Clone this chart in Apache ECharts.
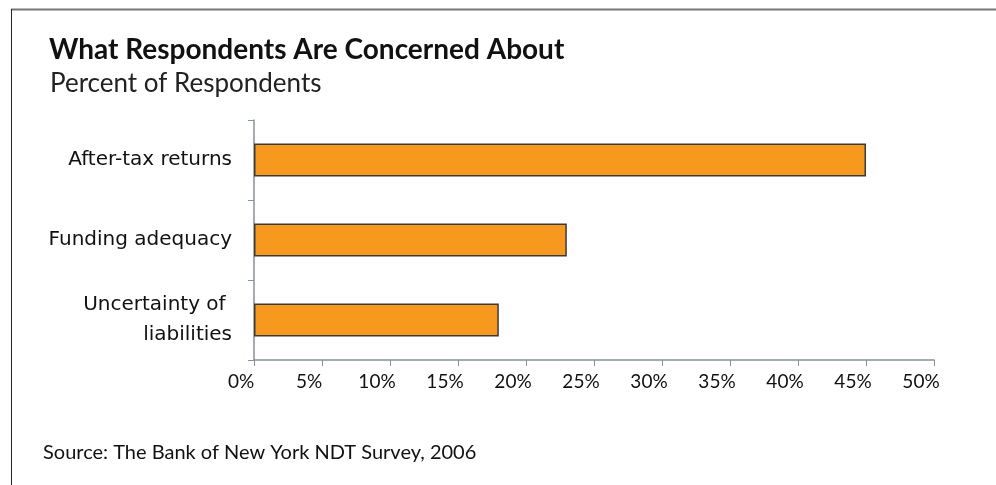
<!DOCTYPE html>
<html>
<head>
<meta charset="utf-8">
<style>
  html, body { margin: 0; padding: 0; background: #fff; }
  #chart { width: 996px; height: 485px; }
</style>
<script src="https://cdn.jsdelivr.net/npm/echarts@6/dist/echarts.min.js"></script>
</head>
<body>
<div id="chart"></div>
<script>
// categories, top to bottom
var categories = ['After-tax returns', 'Funding adequacy', 'Uncertainty of \nliabilities'];
// percent of respondents
var values = [45, 23, 18];
var xTicks = [0, 5, 10, 15, 20, 25, 30, 35, 40, 45, 50];

var chart = echarts.init(document.getElementById('chart'));

chart.setOption({
  animation: false,
  textStyle: { fontFamily: 'Lato' },
  title: [{
    text: 'What Respondents Are Concerned About',
    left: 44, top: 31,
    textStyle: { fontSize: 28, fontWeight: 'bold', color: '#111', fontFamily: 'Lato' }
  }, {
    text: 'Percent of Respondents',
    left: 45, top: 66,
    textStyle: { fontSize: 26, fontWeight: 'normal', color: '#222', fontFamily: 'Lato' }
  }, {
    text: 'Source: The Bank of New York NDT Survey, 2006',
    left: 38, top: 438,
    textStyle: { fontSize: 20, fontWeight: 'normal', color: '#111', fontFamily: 'Lato' }
  }],
  graphic: [
    // frame lines of the source figure
    { type: 'line', shape: { x1: 11, y1: 9.5, x2: 996, y2: 9.5 }, style: { stroke: '#777', lineWidth: 2 } },
    { type: 'line', shape: { x1: 11.5, y1: 9, x2: 11.5, y2: 485 }, style: { stroke: '#222', lineWidth: 1 } }
  ],
  grid: { left: 254, right: 62, top: 120, bottom: 125 },
  xAxis: {
    type: 'value',
    min: 0, max: 50, interval: 5,
    axisLine: { show: true, lineStyle: { color: '#8a9099', width: 1.5 } },
    axisTick: { show: true, length: 6, lineStyle: { color: '#8a9099' } },
    splitLine: { show: false },
    axisLabel: {
      margin: 12, fontSize: 19, color: '#111',
      align: 'center', padding: [0, 26, 0, 0],
      formatter: function (v) { return xTicks.indexOf(v) >= 0 ? v + '%' : ''; }
    }
  },
  yAxis: {
    type: 'category',
    inverse: true,
    data: categories,
    axisLine: { show: true, lineStyle: { color: '#8a9099', width: 1.5 } },
    axisTick: { show: true, length: 6, alignWithLabel: false, lineStyle: { color: '#8a9099' } },
    axisLabel: {
      margin: 22, fontSize: 20, color: '#111', lineHeight: 30, align: 'right',
      fontFamily: 'DejaVu Sans'
    }
  },
  series: [{
    type: 'bar',
    data: values,
    barWidth: '41%',
    itemStyle: { color: '#F7991F', borderColor: '#3a3a3a', borderWidth: 1.5 }
  }]
});
</script>
</body>
</html>
